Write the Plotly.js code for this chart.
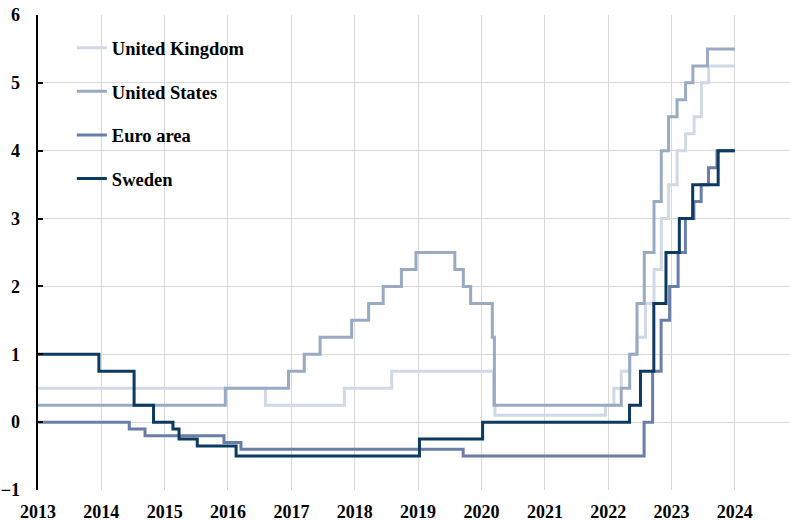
<!DOCTYPE html>
<html>
<head>
<meta charset="utf-8">
<script src="https://cdn.plot.ly/plotly-3.0.1.min.js"></script>
<style>
  html, body { margin: 0; padding: 0; background: #fff; }
  #chart { width: 790px; height: 521px; }
</style>
</head>
<body>
<div id="chart"></div>
<script>
// Policy rates, per cent (step series: date of change -> new rate)
const ukDates = ['2013-01-01', '2016-08-04', '2017-11-02', '2018-08-02', '2020-03-11', '2020-03-19',
    '2021-12-16', '2022-02-03', '2022-03-17', '2022-05-05', '2022-06-16', '2022-08-04', '2022-09-22',
    '2022-11-03', '2022-12-15', '2023-02-02', '2023-03-23', '2023-05-11', '2023-06-22', '2023-08-03', '2024-01-01'];
const ukRates = [0.5, 0.25, 0.5, 0.75, 0.25, 0.1,
    0.25, 0.5, 0.75, 1.0, 1.25, 1.75, 2.25,
    3.0, 3.5, 4.0, 4.25, 4.5, 5.0, 5.25, 5.25];

const usDates = ['2013-01-01', '2015-12-17', '2016-12-15', '2017-03-16', '2017-06-15', '2017-12-14',
    '2018-03-22', '2018-06-14', '2018-09-27', '2018-12-20', '2019-08-01', '2019-09-19', '2019-10-31',
    '2020-03-04', '2020-03-16', '2022-03-17', '2022-05-05', '2022-06-16', '2022-07-28', '2022-09-22',
    '2022-11-03', '2022-12-15', '2023-02-02', '2023-03-23', '2023-05-04', '2023-07-27', '2024-01-01'];
const usRates = [0.25, 0.5, 0.75, 1.0, 1.25, 1.5,
    1.75, 2.0, 2.25, 2.5, 2.25, 2.0, 1.75,
    1.25, 0.25, 0.5, 1.0, 1.75, 2.5, 3.25,
    4.0, 4.5, 4.75, 5.0, 5.25, 5.5, 5.5];

const euDates = ['2013-01-01', '2014-06-11', '2014-09-10', '2015-12-09', '2016-03-16', '2019-09-18',
    '2022-07-27', '2022-09-14', '2022-11-02', '2022-12-21', '2023-02-08', '2023-03-22', '2023-05-10',
    '2023-06-21', '2023-08-02', '2023-09-20', '2024-01-01'];
const euRates = [0, -0.1, -0.2, -0.3, -0.4, -0.5,
    0, 0.75, 1.5, 2.0, 2.5, 3.0, 3.25,
    3.5, 3.75, 4.0, 4.0];

const seDates = ['2013-01-01', '2013-12-18', '2014-07-09', '2014-10-29', '2015-02-18', '2015-03-25',
    '2015-07-08', '2016-02-17', '2019-01-09', '2020-01-08', '2022-05-04', '2022-07-06', '2022-09-21',
    '2022-11-30', '2023-02-15', '2023-05-03', '2023-09-27', '2024-01-01'];
const seRates = [1.0, 0.75, 0.25, 0, -0.1, -0.25,
    -0.35, -0.5, -0.25, 0, 0.25, 0.75, 1.75,
    2.5, 3.0, 3.5, 4.0, 4.0];

const seriesNames = ['United Kingdom', 'United States', 'Euro area', 'Sweden'];
const seriesColors = ['#d0d9e5', '#9aaac3', '#6a7ea7', '#0c3a60'];
const seriesDates = [ukDates, usDates, euDates, seDates];
const seriesRates = [ukRates, usRates, euRates, seRates];

const xRange = ['2013-01-01', '2024-11-14'];
const font = { family: 'Liberation Serif, Times New Roman, serif', size: 18, color: '#000', weight: 'bold' };
const legendFont = Object.assign({}, font, { size: 18.5 });

const data = seriesNames.map((name, i) => ({
    x: seriesDates[i],
    y: seriesRates[i],
    type: 'scatter',
    mode: 'lines',
    name: name,
    legendgroup: 'g' + i,
    line: { shape: 'hv', color: seriesColors[i], width: 3 }
}));

const layout = {
    width: 790,
    height: 521,
    margin: { l: 38, r: 0, t: 15, b: 31 },
    paper_bgcolor: '#fff',
    plot_bgcolor: '#fff',
    font: font,
    showlegend: true,
    legend: {
        x: 0.045, y: 0.97, xanchor: 'left', yanchor: 'top',
        bgcolor: 'rgba(0,0,0,0)',
        font: legendFont,
        tracegroupgap: 16.5,
        itemwidth: 30
    },
    xaxis: {
        type: 'date',
        range: xRange,
        tickvals: ['2013-01-01', '2014-01-01', '2015-01-01', '2016-01-01', '2017-01-01', '2018-01-01',
            '2019-01-01', '2020-01-01', '2021-01-01', '2022-01-01', '2023-01-01', '2024-01-01'],
        tickformat: '%Y',
        ticks: '',
        showline: false,
        showgrid: true,
        gridcolor: '#d9d9d9',
        gridwidth: 1,
        zeroline: false,
        ticklabelstandoff: 9,
        tickfont: font
    },
    // axis line drawn at y = 0 with upward ticks
    xaxis2: {
        type: 'date',
        overlaying: 'x',
        matches: 'x',
        range: xRange,
        anchor: 'free',
        position: 1 / 7,
        side: 'top',
        tickvals: ['2014-01-01', '2015-01-01', '2016-01-01', '2017-01-01', '2018-01-01',
            '2019-01-01', '2020-01-01', '2021-01-01', '2022-01-01', '2023-01-01', '2024-01-01'],
        ticks: 'outside',
        ticklen: 5,
        tickwidth: 3,
        tickcolor: '#000',
        showticklabels: false,
        showline: true,
        linecolor: '#000',
        linewidth: 2.5,
        showgrid: false,
        zeroline: false,
        layer: 'below traces'
    },
    yaxis: {
        range: [-1, 6],
        dtick: 1,
        ticks: 'inside',
        ticklen: 5,
        tickwidth: 2,
        tickcolor: '#000',
        showline: true,
        linecolor: '#000',
        linewidth: 2.5,
        showgrid: true,
        gridcolor: '#d9d9d9',
        gridwidth: 1,
        zeroline: false,
        ticklabelstandoff: 12,
        tickfont: font
    }
};

Plotly.newPlot('chart', data, layout, { displayModeBar: false, staticPlot: true });
</script>
</body>
</html>
